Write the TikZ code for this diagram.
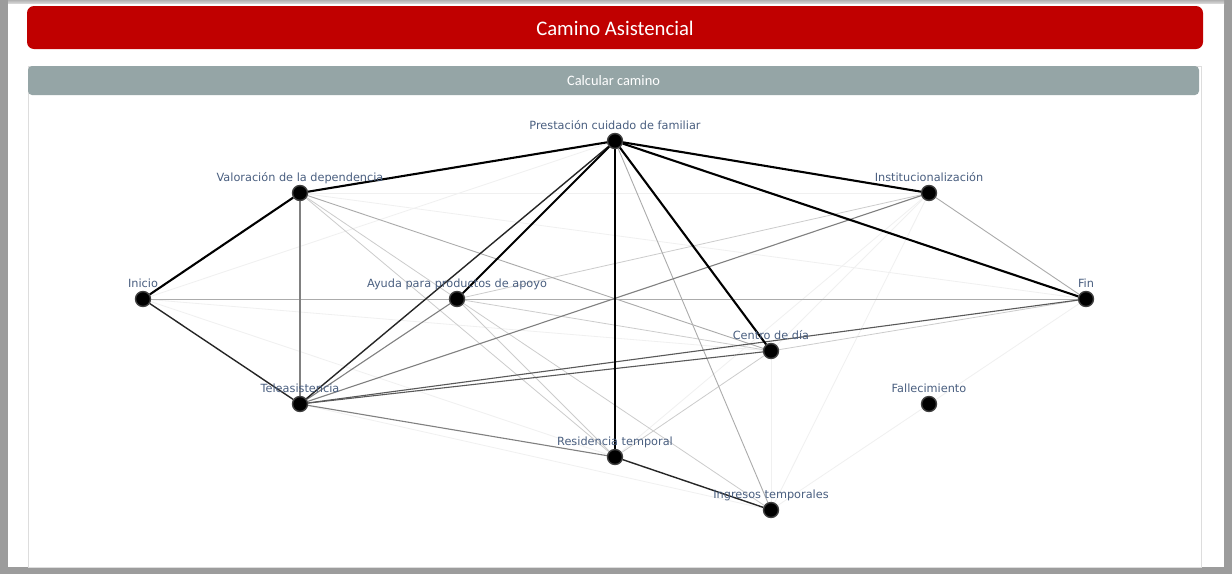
\documentclass[tikz,border=0pt]{standalone}
\usepackage{fontspec}
\newfontfamily\labfont{DejaVu Sans}
\newfontfamily\titfont{Carlito}
\usetikzlibrary{backgrounds}
\definecolor{hdrred}{HTML}{C00000}
\definecolor{subgray}{HTML}{95A5A6}
\definecolor{labcol}{HTML}{4A5F80}
\definecolor{frame}{HTML}{9C9C9C}
\definecolor{cardline}{HTML}{DDDDDD}
\tikzset{
  vert/.style={circle, fill=black, draw=black!75, line width=1.4pt, minimum size=15pt, inner sep=0pt},
  lab/.style={anchor=base, inner sep=0pt, text=labcol, font=\labfont\fontsize{11.3}{13}\selectfont},
  eA/.style={line width=2.1pt, black},
  eB/.style={line width=1.4pt, black!85},
  eC/.style={line width=1.1pt, black!65},
  eD/.style={line width=1.1pt, black!50},
  eE/.style={line width=0.9pt, black!33},
  eF/.style={line width=0.8pt, black!20},
  eG/.style={line width=0.8pt, black!6},
}
\begin{document}
\begin{tikzpicture}[x=1pt,y=-1pt]
\useasboundingbox (0,0) rectangle (1232,574);
% vertices
\node[vert] (ini) at (143,299) {};
\node[vert] (val) at (300,193) {};
\node[vert] (pre) at (615,141) {};
\node[vert] (ins) at (929,193) {};
\node[vert] (fin) at (1086,299) {};
\node[vert] (ayu) at (457,299) {};
\node[vert] (cen) at (771,351) {};
\node[vert] (tel) at (300,404) {};
\node[vert] (fal) at (929,404) {};
\node[vert] (res) at (615,457) {};
\node[vert] (ing) at (771,510) {};
% labels
\path (ini) ++(0,-12) node[lab] (lini) {Inicio};
\path (val) ++(0,-12) node[lab] (lval) {Valoración de la dependencia};
\path (pre) ++(0,-12) node[lab] (lpre) {Prestación cuidado de familiar};
\path (ins) ++(0,-12) node[lab] (lins) {Institucionalización};
\path (fin) ++(0,-12) node[lab] (lfin) {Fin};
\path (ayu) ++(0,-12) node[lab] (layu) {Ayuda para productos de apoyo};
\path (cen) ++(0,-12) node[lab] (lcen) {Centro de día};
\path (tel) ++(0,-12) node[lab] (ltel) {Teleasistencia};
\path (fal) ++(0,-12) node[lab] (lfal) {Fallecimiento};
\path (res) ++(0,-12) node[lab] (lres) {Residencia temporal};
\path (ing) ++(0,-12) node[lab] (ling) {Ingresos temporales};
\begin{scope}[on background layer]
  % page and frame
  \fill[frame] (0,0) rectangle (1232,574);
  \shade[top color=black!30, bottom color=black!12] (8,0) rectangle (1224,4);
  \fill[white] (8,4) rectangle (1224,567);
  \draw[cardline, line width=1pt] (28.5,66.5) rectangle (1201.5,567);
  \fill[hdrred, rounded corners=7pt] (27,6) rectangle (1203,49);
  \node[inner sep=0pt, text=white, font=\titfont\fontsize{20.7}{24}\selectfont] (title) at (615,28) {Camino Asistencial};
  \fill[subgray, rounded corners=4pt] (28,66) rectangle (1199,95);
  \node[inner sep=0pt, text=white, font=\titfont\fontsize{14.4}{17}\selectfont] (sub) at (613.5,80.5) {Calcular camino};
  % faint edges
  \draw[eG] (val) -- (fin);
  \draw[eG] (val) -- (ins);
  \draw[eG] (ini) -- (pre);
  \draw[eG] (ini) -- (cen);
  \draw[eG] (ini) -- (res);
  \draw[eG] (ins) -- (cen);
  \draw[eG] (ins) -- (res);
  \draw[eG] (ins) -- (ing);
  \draw[eG] (cen) -- (ing);
  \draw[eG] (fin) -- (ing);
  \draw[eG] (tel) -- (ing);
  % light edges
  \draw[eF] (ayu) -- (cen);
  \draw[eF] (ayu) -- (res);
  \draw[eF] (ayu) -- (ing);
  \draw[eF] (val) -- (res);
  \draw[eF] (val) -- (ayu);
  \draw[eF] (ayu) -- (ins);
  \draw[eF] (cen) -- (res);
  \draw[eF] (cen) -- (fin);
  % gray edges
  \draw[eE] (ini) -- (fin);
  \draw[eE] (ins) -- (fin);
  \draw[eE] (pre) -- (ing);
  \draw[eE] (val) -- (cen);
  % darker gray edges
  \draw[eD] (val) -- (tel);
  \draw[eD] (tel) -- (ayu);
  \draw[eD] (tel) -- (ins);
  \draw[eD] (tel) -- (res);
  \draw[eC] (tel) -- (cen);
  \draw[eC] (tel) -- (fin);
  % black edges
  \draw[eB] (pre) -- (tel);
  \draw[eB] (ini) -- (tel);
  \draw[eB] (res) -- (ing);
  \draw[eA] (ini) -- (val);
  \draw[eA] (val) -- (pre);
  \draw[eA] (pre) -- (ins);
  \draw[eA] (pre) -- (fin);
  \draw[eA] (pre) -- (cen);
  \draw[eA] (pre) -- (res);
  \draw[eA] (pre) -- (ayu);
\end{scope}
\end{tikzpicture}
\end{document}
